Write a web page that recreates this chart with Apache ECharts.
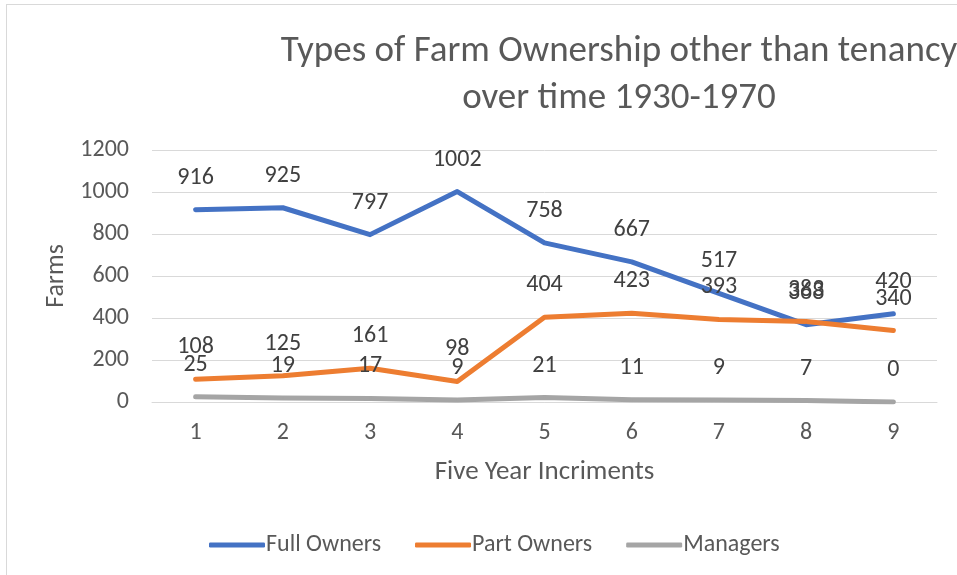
<!DOCTYPE html>
<html>
<head>
<meta charset="utf-8">
<script src="https://cdn.jsdelivr.net/npm/echarts@6/dist/echarts.min.js"></script>
<style>
  html, body { margin: 0; padding: 0; background: #fff; }
  #frame { position: absolute; left: 6px; top: 4px; width: 1000px; height: 620px; border: 1px solid #d9d9d9; box-sizing: border-box; }
  #chart { position: absolute; left: 0; top: 0; width: 957px; height: 575px; }
</style>
</head>
<body>
<div id="frame"></div>
<div id="chart"></div>
<script>
const categories = ['1', '2', '3', '4', '5', '6', '7', '8', '9'];
const fullOwners = [916, 925, 797, 1002, 758, 667, 517, 368, 420];
const partOwners = [108, 125, 161, 98, 404, 423, 393, 383, 340];
const managers = [25, 19, 17, 9, 21, 11, 9, 7, 0];

const font = 'Carlito, "Open Sans", "Noto Sans", sans-serif';
const chart = echarts.init(document.getElementById('chart'));

function lineSeries(name, data, color) {
  return {
    name: name,
    type: 'line',
    data: data,
    symbol: 'circle',
    symbolSize: 2,
    showSymbol: true,
    lineStyle: { width: 5, color: color, cap: 'round', join: 'round' },
    itemStyle: { color: color },
    label: {
      show: true,
      position: 'top',
      distance: 19,
      color: '#404040',
      fontSize: 24,
      fontFamily: font,
    },
    labelLayout: { hideOverlap: false },
    emphasis: { disabled: true },
  };
}

const option = {
  animation: false,
  title: {
    text: 'Types of Farm Ownership other than tenancy\nover time 1930-1970',
    left: 614,
    top: 23,
    textAlign: 'center',
    textStyle: {
      color: '#595959',
      fontSize: 37,
      fontWeight: 'normal',
      fontFamily: font,
      lineHeight: 47,
    },
  },
  legend: {
    data: ['Full Owners', 'Part Owners', 'Managers'],
    left: 204,
    top: 528,
    icon: 'roundRect',
    itemWidth: 56,
    itemHeight: 5,
    itemGap: 34,
    textStyle: { color: '#595959', fontSize: 24, fontFamily: font, padding: [0, 0, 0, -4] },
  },
  grid: {
    left: 152,
    right: 20,
    top: 150,
    bottom: 173,
    containLabel: false,
  },
  xAxis: {
    type: 'category',
    data: categories,
    boundaryGap: true,
    name: 'Five Year Incriments',
    nameLocation: 'middle',
    nameGap: 57,
    nameTextStyle: { color: '#595959', fontSize: 27, fontFamily: font },
    axisLine: { show: true, lineStyle: { color: '#d9d9d9', width: 1 } },
    axisTick: { show: false },
    axisLabel: { color: '#595959', fontSize: 24, fontFamily: font, margin: 19 },
  },
  yAxis: {
    type: 'value',
    min: 0,
    max: 1200,
    interval: 200,
    name: 'Farms',
    nameLocation: 'middle',
    nameGap: 78,
    nameTextStyle: { color: '#595959', fontSize: 26, fontFamily: font },
    axisLine: { show: false },
    axisTick: { show: false },
    axisLabel: { color: '#595959', fontSize: 24, fontFamily: font, margin: 23, formatter: v => String(v) },
    splitLine: { lineStyle: { color: '#d9d9d9', width: 1 } },
  },
  series: [
    lineSeries('Full Owners', fullOwners, '#4472c4'),
    lineSeries('Part Owners', partOwners, '#ed7d31'),
    lineSeries('Managers', managers, '#a5a5a5'),
  ],
};
chart.setOption(option);
</script>
</body>
</html>
